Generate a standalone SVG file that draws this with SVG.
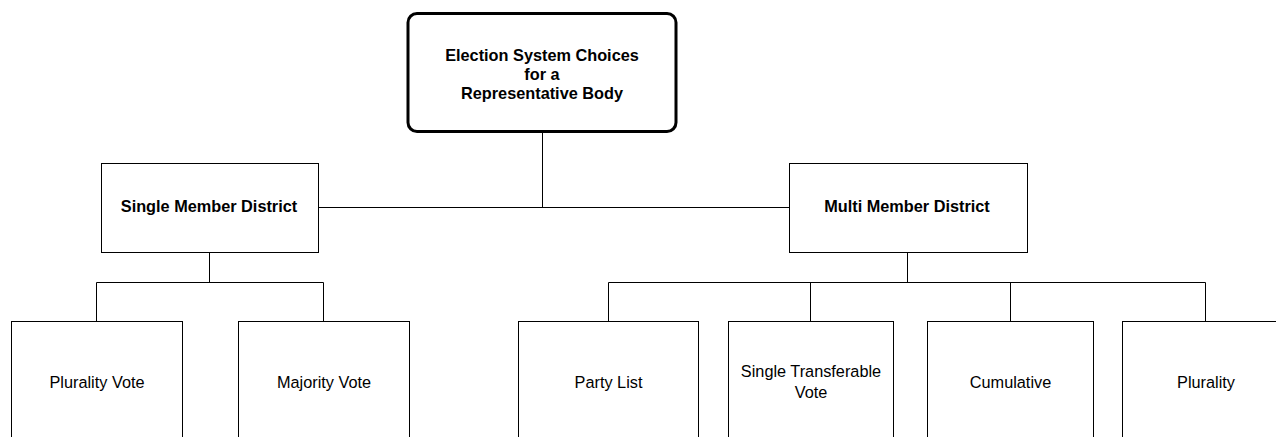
<svg xmlns="http://www.w3.org/2000/svg" width="1276" height="437" viewBox="0 0 1276 437">
<style>
.box{fill:#fff;stroke:#000;stroke-width:1}
.root{fill:#fff;stroke:#000;stroke-width:3}
.ln{fill:none;stroke:#000;stroke-width:1}
.b{font-family:"Liberation Sans",Arial,sans-serif;font-size:16.3px;font-weight:bold;fill:#000;text-anchor:middle}
.r{font-family:"Liberation Sans",Arial,sans-serif;font-size:16.3px;fill:#000;text-anchor:middle}
</style>
<rect width="1276" height="437" fill="#fff"/>
<g id="connectors">
<path class="ln" d="M542.5 132V207.5M318 207.5H789"/>
<path class="ln" d="M209.5 252V282.5M96.5 282.5H323.5M96.5 282.5V321M323.5 282.5V321"/>
<path class="ln" d="M907.5 252V282.5M608.5 282.5H1205.5M608.5 282.5V321M810.5 282.5V321M1010.5 282.5V321M1205.5 282.5V321"/>
</g>
<g id="root">
<rect class="root" x="408" y="13.5" width="268" height="118" rx="9"/>
<text class="b" x="542" y="61">Election System Choices</text>
<text class="b" x="542" y="80">for a</text>
<text class="b" x="542" y="99">Representative Body</text>
</g>
<g id="single">
<rect class="box" x="101.5" y="163.5" width="217" height="89"/>
<text class="b" x="209" y="212">Single Member District</text>
</g>
<g id="multi">
<rect class="box" x="789.5" y="163.5" width="238" height="89"/>
<text class="b" x="907" y="212">Multi Member District</text>
</g>
<g id="plurality-vote">
<rect class="box" x="11.5" y="321.5" width="171" height="130"/>
<text class="r" x="97" y="388">Plurality Vote</text>
</g>
<g id="majority-vote">
<rect class="box" x="238.5" y="321.5" width="171" height="130"/>
<text class="r" x="324" y="388">Majority Vote</text>
</g>
<g id="party-list">
<rect class="box" x="518.5" y="321.5" width="180" height="130"/>
<text class="r" x="608.5" y="388">Party List</text>
</g>
<g id="stv">
<rect class="box" x="728.5" y="321.5" width="165" height="130"/>
<text class="r" x="811" y="377">Single Transferable</text>
<text class="r" x="811" y="398">Vote</text>
</g>
<g id="cumulative">
<rect class="box" x="927.5" y="321.5" width="166" height="130"/>
<text class="r" x="1010.5" y="388">Cumulative</text>
</g>
<g id="plurality">
<rect class="box" x="1122.5" y="321.5" width="166" height="130"/>
<text class="r" x="1206" y="388">Plurality</text>
</g>
</svg>
